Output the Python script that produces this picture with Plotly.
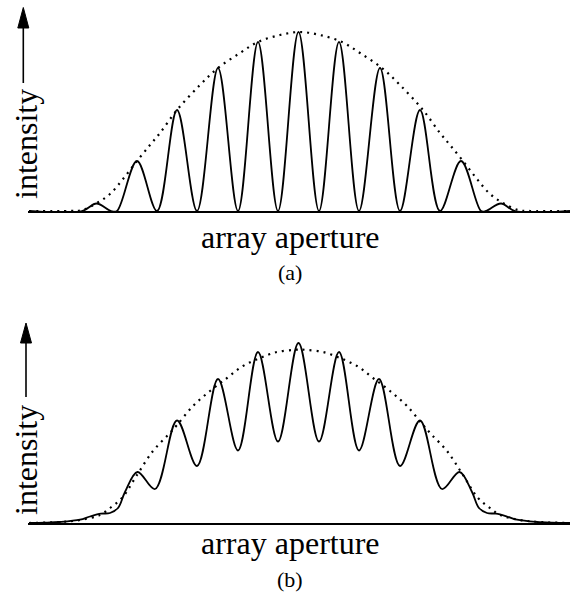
import plotly.graph_objects as go

# ---------------- data (x in aperture units, y in intensity units) -------------
# panel (a): fully modulated fringes (alternating valley / peak points)
curve_a_x = [29, 82, 96.5, 111, 117, 137, 157, 177, 197, 218, 238, 258, 278, 298.5,
             319, 339, 359, 380, 400, 420, 440, 461, 481, 486, 501, 515, 570]
curve_a_y = [0, 0, 7.5, 0, 0, 50, 0, 101, 0, 143, 0, 169, 0, 179,
             0, 169, 0, 143, 0, 101, 0, 50, 0, 0, 7.5, 0, 0]

envelope_a_x = [29, 70, 82, 97, 110, 123, 137, 150, 160, 177, 200, 218, 240, 258, 280, 300,
                320, 342, 360, 382, 400, 423, 440, 450, 463, 477, 490, 503, 518, 530, 570]
envelope_a_y = [0, 0, 1, 8, 17, 32, 50, 66, 78, 101, 126, 143, 158, 169, 176, 179,
                176, 169, 158, 143, 126, 101, 78, 66, 50, 32, 17, 8, 1, 0, 0]

# panel (b): partially modulated fringes
curve_b_x = [29, 45, 60, 80, 90, 101, 110, 118, 125, 137.5, 155, 177, 197, 218, 238, 258, 278, 298.5,
             319, 339, 359, 379, 400, 420, 442, 459.5, 472, 479, 487, 496, 507, 517, 537, 552, 570]
curve_b_y = [0, 0.3, 1, 3.3, 6.5, 9.3, 10, 15, 31, 51, 34, 102.5, 57, 144, 72.5, 171, 81.5, 180,
             81.5, 171, 72.5, 144, 57, 102.5, 34, 51, 31, 15, 10, 9.3, 6.5, 3.3, 1, 0.3, 0]

envelope_b_x = [29, 60, 80, 100, 110, 122, 137, 153, 168, 177, 193, 210, 227, 243, 260, 277, 293, 300,
                307, 323, 340, 357, 373, 390, 407, 423, 432, 447, 463, 478, 490, 500, 520, 540, 570]
envelope_b_y = [0, 1, 3, 8, 15, 25, 48, 72, 88, 98, 117, 132, 145, 157, 165, 171, 173, 173.5,
                173, 171, 165, 157, 145, 132, 117, 98, 88, 72, 48, 25, 15, 8, 3, 1, 0]

x_label = "array aperture"
y_label = "intensity"
panel_labels = ["(a)", "(b)"]

# ---------------- layout helpers (pixel -> paper) -------------
W, H = 570, 605


def fx(px):
    return px / W


def fy(py):
    return 1 - py / H


FONT = "Liberation Serif"
LW = 1.8

fig = go.Figure()

for cx, cy, ex, ey, xa, ya in [
    (curve_a_x, curve_a_y, envelope_a_x, envelope_a_y, "x", "y"),
    (curve_b_x, curve_b_y, envelope_b_x, envelope_b_y, "x2", "y2"),
]:
    fig.add_trace(go.Scatter(x=ex, y=ey, mode="lines", xaxis=xa, yaxis=ya,
                             line=dict(color="black", width=2.2, dash="2px,5px",
                                       shape="spline", smoothing=1),
                             hoverinfo="skip"))
    fig.add_trace(go.Scatter(x=cx, y=cy, mode="lines", xaxis=xa, yaxis=ya,
                             line=dict(color="black", width=LW, shape="spline", smoothing=1),
                             hoverinfo="skip"))

xcommon = dict(domain=[fx(28), 1], range=[28, 570], showline=True, linecolor="black",
               linewidth=2, showticklabels=False, ticks="", showgrid=False, zeroline=False,
               fixedrange=True)
ycommon = dict(range=[0, 196], showline=False, showticklabels=False, ticks="",
               showgrid=False, zeroline=False, fixedrange=True)

shapes = []
annotations = []
panels = [
    dict(base=211, ax=23.3, tip=7.5, hb=28, tail=83, ly=237, ply=273, iy=144),
    dict(base=523, ax=26, tip=323, hb=343, tail=397, ly=543, ply=579, iy=460),
]
for i, p in enumerate(panels):
    # arrow shaft
    shapes.append(dict(type="line", xref="paper", yref="paper",
                       x0=fx(p["ax"]), x1=fx(p["ax"]), y0=fy(p["tail"]), y1=fy(p["hb"] - 1),
                       line=dict(color="black", width=1.6)))
    # arrow head
    hw = 5.5
    path = "M{},{} L{},{} L{},{} Z".format(
        fx(p["ax"]), fy(p["tip"]), fx(p["ax"] - hw), fy(p["hb"]), fx(p["ax"] + hw), fy(p["hb"]))
    shapes.append(dict(type="path", xref="paper", yref="paper", path=path,
                       fillcolor="black", line=dict(color="black", width=1)))
    annotations.append(dict(text=y_label, textangle=-90, xref="paper", yref="paper",
                            x=fx(26), y=fy(p["iy"]), xanchor="center", yanchor="middle",
                            showarrow=False, font=dict(family=FONT, size=32, color="black")))
    annotations.append(dict(text=x_label, xref="paper", yref="paper",
                            x=fx(290), y=fy(p["ly"]), xanchor="center", yanchor="middle",
                            showarrow=False, font=dict(family=FONT, size=32, color="black")))
    annotations.append(dict(text=panel_labels[i], xref="paper", yref="paper",
                            x=fx(290), y=fy(p["ply"]), xanchor="center", yanchor="middle",
                            showarrow=False, font=dict(family=FONT, size=22, color="black")))

fig.update_layout(
    width=W, height=H,
    margin=dict(l=0, r=0, t=0, b=0),
    paper_bgcolor="white", plot_bgcolor="white",
    showlegend=False,
    xaxis=dict(xcommon, anchor="y"),
    yaxis=dict(ycommon, domain=[fy(211), fy(15)], anchor="x"),
    xaxis2=dict(xcommon, anchor="y2"),
    yaxis2=dict(ycommon, domain=[fy(523), fy(327)], anchor="x2"),
    shapes=shapes,
    annotations=annotations,
)

fig.write_html("out.html")
